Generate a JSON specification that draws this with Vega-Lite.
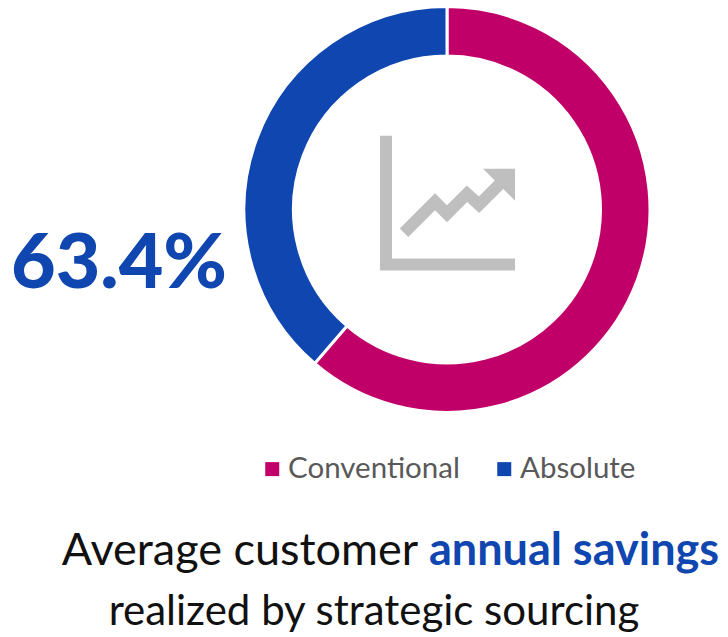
{"$schema":"https://vega.github.io/schema/vega-lite/v6.json","width":728,"height":637,"autosize":{"type":"fit","contains":"padding"},"padding":0,"background":"white","config":{"view":{"stroke":null}},
"datasets":{"share":[{"type":"Conventional","value":61.3,"ord":1},{"type":"Absolute","value":38.7,"ord":2}],
"labels":[{"t":"63.4%","x":119,"y":287,"k":"big"},{"t":"Average customer","x":240,"y":565,"k":"line1"},{"t":"annual savings","x":574,"y":565,"k":"bold"},{"t":"realized by strategic sourcing","x":374,"y":625,"k":"line2"}],
"icon":[{"g":"axis","i":1,"x":386,"y":135},{"g":"axis","i":2,"x":386,"y":264},{"g":"axis","i":3,"x":515,"y":264},{"g":"trend","i":1,"x":404,"y":232},{"g":"trend","i":2,"x":435,"y":201},{"g":"trend","i":3,"x":447,"y":213},{"g":"trend","i":4,"x":467,"y":193},{"g":"trend","i":5,"x":479,"y":204},{"g":"trend","i":6,"x":503,"y":180}],
"head":[{"x":499,"y":184}]},
"layer":[
{"data":{"name":"share"},"mark":{"type":"arc","innerRadius":153.5,"outerRadius":203,"stroke":"white","strokeWidth":3,"x":447,"y":208.5},
"encoding":{"theta":{"field":"value","type":"quantitative","stack":true},"order":{"field":"ord"},
"color":{"field":"type","type":"nominal","sort":["Conventional","Absolute"],"scale":{"domain":["Conventional","Absolute"],"range":["#C00068","#0F46AF"]},
"legend":{"title":null,"orient":"none","legendX":257.5,"legendY":453,"direction":"horizontal","symbolType":"square","symbolSize":196,"labelFont":"Lato","labelFontSize":29.5,"labelColor":"#595959","labelLimit":400,"columnPadding":29,"labelOffset":1,"symbolStrokeWidth":0}}}},
{"data":{"name":"icon"},"mark":{"type":"line","stroke":"#BFBFBF","strokeWidth":12,"strokeJoin":"miter","strokeCap":"butt"},
"encoding":{"x":{"field":"x","type":"quantitative","scale":{"domain":[0,728],"nice":false},"axis":null},"y":{"field":"y","type":"quantitative","scale":{"domain":[637,0],"nice":false},"axis":null},"detail":{"field":"g"},"order":{"field":"i"}}},
{"data":{"name":"head"},"mark":{"type":"point","filled":true,"fill":"#BFBFBF","opacity":1,"strokeWidth":0,"shape":"M -1 -1 L 1 -1 L 1 1 Z","size":1024},
"encoding":{"x":{"field":"x","type":"quantitative","scale":{"domain":[0,728],"nice":false},"axis":null},"y":{"field":"y","type":"quantitative","scale":{"domain":[637,0],"nice":false},"axis":null}}},
{"data":{"name":"labels"},"transform":[{"filter":"datum.k=='big'"}],"mark":{"type":"text","font":"Lato","fontWeight":900,"fontSize":77,"color":"#0F46AF","baseline":"alphabetic","align":"center"},
"encoding":{"x":{"field":"x","type":"quantitative","scale":{"domain":[0,728],"nice":false},"axis":null},"y":{"field":"y","type":"quantitative","scale":{"domain":[637,0],"nice":false},"axis":null},"text":{"field":"t"}}},
{"data":{"name":"labels"},"transform":[{"filter":"datum.k=='line1'"}],"mark":{"type":"text","font":"Lato","fontSize":45,"color":"#111111","baseline":"alphabetic","align":"center"},
"encoding":{"x":{"field":"x","type":"quantitative","scale":{"domain":[0,728],"nice":false},"axis":null},"y":{"field":"y","type":"quantitative","scale":{"domain":[637,0],"nice":false},"axis":null},"text":{"field":"t"}}},
{"data":{"name":"labels"},"transform":[{"filter":"datum.k=='line2'"}],"mark":{"type":"text","font":"Lato","fontSize":42,"color":"#111111","baseline":"alphabetic","align":"center"},
"encoding":{"x":{"field":"x","type":"quantitative","scale":{"domain":[0,728],"nice":false},"axis":null},"y":{"field":"y","type":"quantitative","scale":{"domain":[637,0],"nice":false},"axis":null},"text":{"field":"t"}}},
{"data":{"name":"labels"},"transform":[{"filter":"datum.k=='bold'"}],"mark":{"type":"text","font":"Lato","fontWeight":"bold","fontSize":45,"color":"#0F46AF","baseline":"alphabetic","align":"center"},
"encoding":{"x":{"field":"x","type":"quantitative","scale":{"domain":[0,728],"nice":false},"axis":null},"y":{"field":"y","type":"quantitative","scale":{"domain":[637,0],"nice":false},"axis":null},"text":{"field":"t"}}}
],"resolve":{"scale":{"theta":"independent"}}}
